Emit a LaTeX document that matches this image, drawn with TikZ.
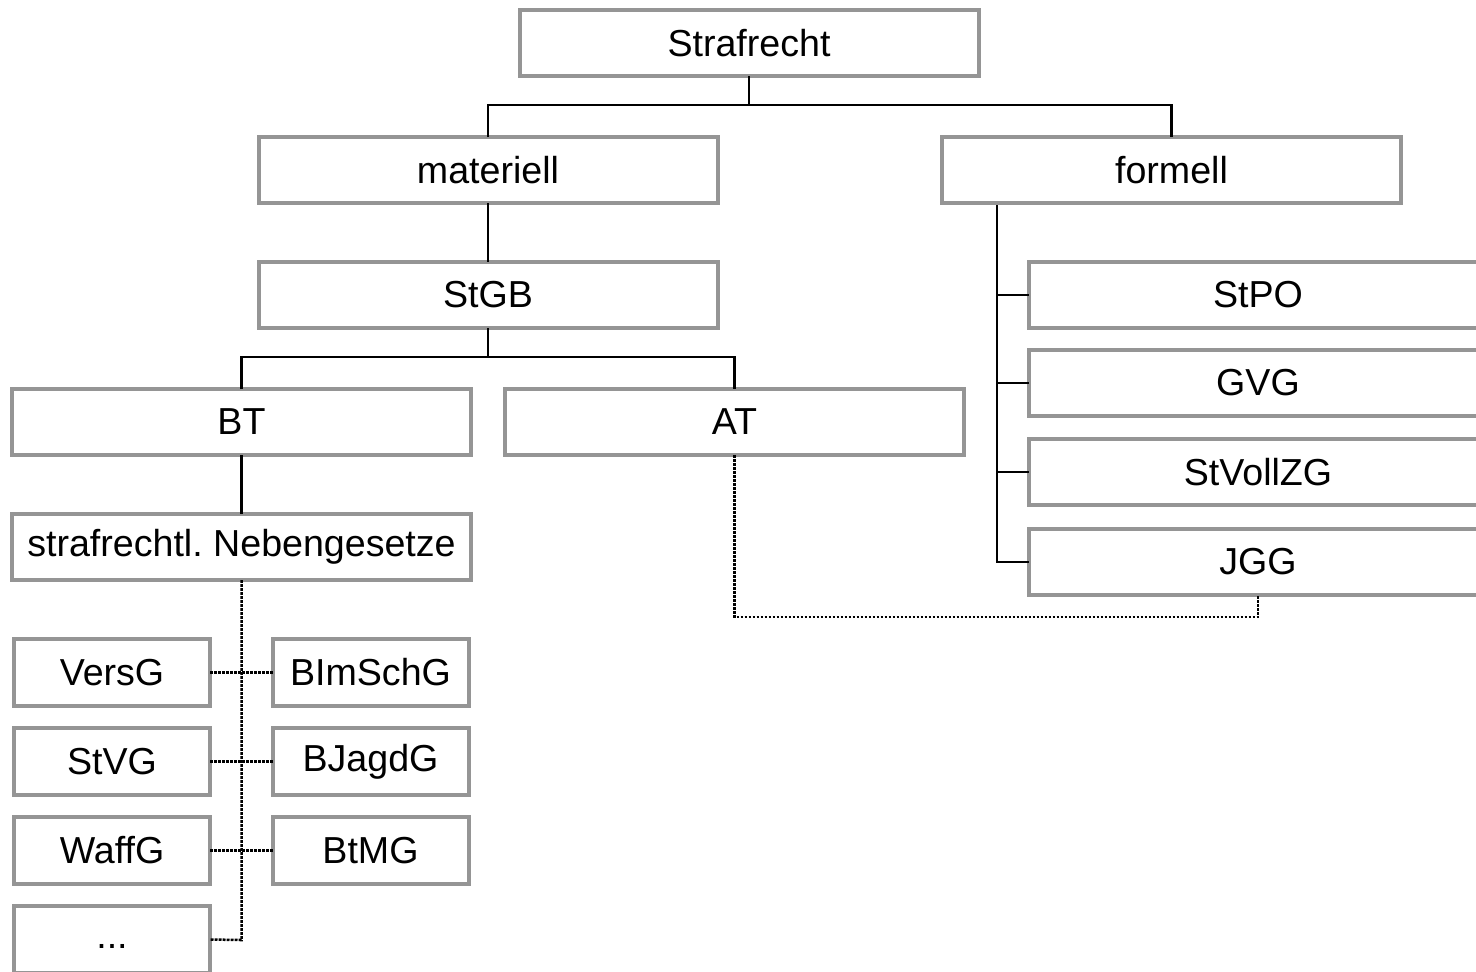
\documentclass[tikz,border=0pt]{standalone}
\usepackage{fontspec}
\setmainfont{Liberation Sans}
\definecolor{boxgray}{HTML}{959595}
\begin{document}
\begin{tikzpicture}[x=0.5pt,y=-0.5pt,
  box/.style={draw=boxgray, line width=2pt, fill=white, inner sep=0pt, outer sep=0pt,
    font=\fontsize{18.8}{22}\selectfont, text=black},
  bigbox/.style={box, minimum width=229.5pt, minimum height=33pt},
  smallbox/.style={box, minimum width=98pt, minimum height=33.5pt},
  conn/.style={draw=black, line width=1.1pt},
  dotconn/.style={draw=black, line width=1.25pt, dash pattern=on 1.4pt off 0.6pt}]
\clip (0,0) rectangle (1476,971);
\fill[white] (0,0) rectangle (1476,971);
% boxes
\node[bigbox] (straf) at (749,43) {Strafrecht};
\node[bigbox] (mat) at (488,170) {materiell};
\node[bigbox] (form) at (1171.5,170) {formell};
\node[bigbox] (stgb) at (488,295) {StGB};
\node[bigbox] (bt) at (241.5,422) {BT};
\node[bigbox] (at) at (734.5,422) {AT};
\node[bigbox] (neb) at (241.5,547) {strafrechtl.\ Nebengesetze};
\node[bigbox] (stpo) at (1258,295) {StPO};
\node[bigbox] (gvg) at (1258,383) {GVG};
\node[bigbox] (stvoll) at (1258,472) {StVollZG};
\node[bigbox] (jgg) at (1258,562) {JGG};
\node[smallbox] (vers) at (112,672.5) {VersG};
\node[smallbox] (bim) at (370.5,672.5) {BImSchG};
\node[smallbox] (stvg) at (112,761.5) {StVG};
\node[smallbox] (bjagd) at (370.5,761.5) {BJagdG};
\node[smallbox] (waff) at (112,850.5) {WaffG};
\node[smallbox] (btmg) at (370.5,850.5) {BtMG};
\node[smallbox, text height=9pt, text depth=0.5pt] (dots) at (112,939.5) {...};
% coordinates
\coordinate (j1) at (749,105);
\coordinate (j2) at (488,357);
\coordinate (f0) at (997,205);
\coordinate (j3) at (241.5,940);
% solid connectors
\draw[conn] (straf.south) -- (j1);
\draw[conn] (mat.north) |- (j1) -| (form.north);
\draw[conn] (mat.south) -- (stgb.north);
\draw[conn] (stgb.south) -- (j2);
\draw[conn] (bt.north) |- (j2) -| (at.north);
\draw[conn] (bt.south) -- (neb.north);
\draw[conn] (f0) |- (jgg.west);
\draw[conn] (stpo.west -| f0) -- (stpo.west);
\draw[conn] (gvg.west -| f0) -- (gvg.west);
\draw[conn] (stvoll.west -| f0) -- (stvoll.west);
% dotted connectors
\draw[dotconn] (neb.south) -- (j3) -- (dots.east);
\draw[dotconn] (vers.east) -- (bim.west);
\draw[dotconn] (stvg.east) -- (bjagd.west);
\draw[dotconn] (waff.east) -- (btmg.west);
\draw[dotconn] (at.south) -- ++(0,162) -| (jgg.south);
\end{tikzpicture}
\end{document}
